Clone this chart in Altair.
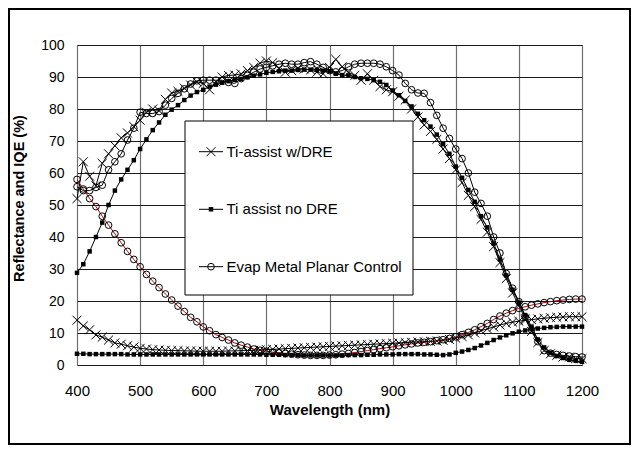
import altair as alt
import pandas as pd

wavelength = list(range(400, 1201, 10))
series_names = ["Ti-assist w/DRE", "Ti assist no DRE", "Evap Metal Planar Control"]

# upper curves
dre_high = [52, 63.5, 59, 56, 63, 66, 68.5, 71, 72.5, 74.5,
            76.5, 79, 80, 79.5, 83, 85, 85.5, 86.5, 87.5, 88.5,
            88, 86, 88.5, 90, 90.5, 90.6, 91, 92, 93, 94.3,
            95, 94.5, 92.7, 91.5, 92, 92.7, 92.5, 92.2, 91.5, 91,
            93, 95.5, 93.2, 91.5, 90.5, 89, 91, 89, 87, 86,
            85.4, 84, 82.8, 80, 77.5, 75, 73, 70.5, 67.5, 64.5,
            61, 57, 53, 49.5, 45.5, 41.5, 37, 32, 27, 22.5,
            18.5, 14.5, 10.5, 7, 4.5, 3.5, 3, 2.5, 2.5, 2,
            2]
nodre_high = [28.8, 31.5, 35.5, 40, 44.5, 50, 54.5, 58, 61, 64,
              67.5, 70.5, 73.4, 75.8, 78.2, 79.8, 81.2, 82.8, 84.2, 85.3,
              86, 87, 87.6, 88.2, 88.7, 89.1, 89.4, 89.9, 90.4, 90.8,
              91.3, 91.6, 91.8, 92, 92, 92.2, 92.3, 92.3, 92.2, 92,
              91.8, 91, 90.6, 90.5, 90, 89.6, 89.4, 89, 88.5, 87.5,
              85.8, 84.3, 82.5, 80.8, 78.5, 76.5, 74.5, 72, 69, 66,
              62, 58.5, 54.7, 51, 46.5, 43, 38, 33, 28, 23.5,
              19.5, 15.6, 12, 8, 5.5, 3.8, 2.8, 2.2, 1.6, 1.3,
              1]
evap_high = [55.7, 54.5, 54.5, 55.5, 56.2, 61, 63.5, 66, 70.3, 74,
             79, 78.6, 78.6, 79.2, 81.2, 83.3, 84.9, 86.3, 87.8, 88.8,
             89, 89, 89, 89, 88.3, 88, 89.5, 90.5, 91.5, 92.5,
             93, 93.5, 94, 94.3, 94, 94, 94.5, 94.8, 94, 93,
             92, 91.6, 92, 93.2, 94, 94.3, 94.3, 94.3, 94, 93.2,
             92, 90.6, 88, 86, 85, 84.9, 82, 78, 74, 70.8,
             67.5, 64.5, 60, 54, 50.5, 46.5, 40, 35, 28.6, 24,
             19.8, 15, 11, 7.3, 4.5, 3.7, 3.3, 3, 2.8, 2.6,
             2.5]
# lower curves
dre_low = [14, 12.2, 11, 9.4, 8.7, 7.8, 6.9, 6.5, 6, 5.6,
           5.2, 5, 4.8, 4.7, 4.6, 4.5, 4.5, 4.4, 4.4, 4.3,
           4.3, 4.3, 4.3, 4.3, 4.4, 4.4, 4.5, 4.5, 4.6, 4.7,
           4.8, 4.9, 5, 5.1, 5.2, 5.3, 5.4, 5.5, 5.6, 5.7,
           5.8, 5.9, 6, 6.1, 6.2, 6.3, 6.4, 6.5, 6.6, 6.7,
           6.8, 6.9, 7, 7.1, 7.2, 7.3, 7.4, 7.5, 7.7, 8,
           8.4, 8.9, 9.4, 10, 10.7, 11.3, 11.9, 12.5, 13, 13.4,
           13.7, 14, 14.2, 14.4, 14.6, 14.8, 14.9, 15, 15.1, 15.1,
           15.1]
nodre_low = [3.5, 3.5, 3.4, 3.4, 3.4, 3.4, 3.4, 3.4, 3.3, 3.3,
             3.3, 3.3, 3.3, 3.3, 3.3, 3.3, 3.3, 3.3, 3.3, 3.3,
             3.3, 3.3, 3.3, 3.3, 3.3, 3.3, 3.3, 3.3, 3.3, 3.3,
             3.2, 3.2, 3.2, 3.1, 3.1, 3.1, 3.0, 3.0, 3.0, 3.0,
             3.0, 3.0, 3.0, 3.1, 3.1, 3.1, 3.2, 3.2, 3.3, 3.3,
             3.3, 3.4, 3.4, 3.4, 3.4, 3.3, 3.3, 3.2, 3.1, 3.3,
             3.8, 4.2, 4.7, 5.3, 6.1, 6.9, 7.8, 8.6, 9.3, 9.9,
             10.4, 10.8, 11.2, 11.4, 11.6, 11.8, 11.9, 12, 12, 12,
             12]
evap_low = [58, 55, 52, 49.5, 46.5, 43.7, 41, 38.2, 35.5, 33,
            30.7, 28.3, 26.2, 24.2, 22.2, 20.3, 18.4, 16.7, 14.9, 13.5,
            11.9, 10.7, 9.5, 8.6, 7.8, 6.9, 6.2, 5.6, 5, 4.6,
            4.3, 4, 3.8, 3.6, 3.4, 3.2, 3.1, 3, 3, 3,
            3.1, 3.2, 3.4, 3.6, 3.9, 4.2, 4.5, 4.8, 5.1, 5.4,
            5.7, 6, 6.3, 6.6, 6.9, 7.1, 7.3, 7.6, 7.9, 8.3,
            8.8, 9.5, 10.2, 11, 12, 13, 14.2, 15.3, 16.2, 17,
            17.7, 18.2, 18.7, 19.1, 19.5, 19.8, 20.1, 20.3, 20.5, 20.6,
            20.6]

x_ticks = list(range(400, 1201, 100))
y_ticks = list(range(0, 101, 10))

rows = []
for name, part, vals in [
    (series_names[0], "high", dre_high), (series_names[1], "high", nodre_high),
    (series_names[2], "high", evap_high), (series_names[0], "low", dre_low),
    (series_names[1], "low", nodre_low), (series_names[2], "low", evap_low)]:
    for w, v in zip(wavelength, vals):
        rows.append({"wl": w, "v": v, "series": name, "part": part, "key": name + "|" + part})
df = pd.DataFrame(rows)

FONT = "Liberation Sans"
W, H = 505, 320

xaxis = alt.Axis(values=x_ticks, format="d", labelFlush=False, labelOverlap=False,
                 title="Wavelength (nm)", grid=True, tickCount=30,
                 gridColor="#707070", gridWidth=1.2, ticks=False, domain=False,
                 labelFontSize=15, labelPadding=18, labelFont=FONT, labelColor="black",
                 titleFont=FONT, titleFontSize=15, titleFontWeight="bold",
                 titleColor="black", titlePadding=4)
yaxis = alt.Axis(values=y_ticks, format="d", labelFlush=False, labelOverlap=False,
                 title="Reflectance and IQE (%)", grid=True, tickCount=30,
                 gridColor="#1a1a1a", gridWidth=1, ticks=False, domain=False,
                 labelFontSize=14, labelPadding=13, labelFont=FONT, labelColor="black",
                 titleFont=FONT, titleFontSize=14.5, titleFontWeight="bold",
                 titleColor="black", titlePadding=14, titleY=153)
xscale = alt.Scale(domain=[400, 1200], nice=False)
yscale = alt.Scale(domain=[0, 100], nice=False)


def xe():
    return alt.X("wl:Q", scale=xscale, axis=xaxis)


def ye():
    return alt.Y("v:Q", scale=yscale, axis=yaxis)


base = alt.Chart(df)
lines = base.mark_line(strokeWidth=1, clip=True).encode(
    x=xe(), y=ye(), detail="key:N",
    color=alt.condition(alt.datum.key == series_names[2] + "|low",
                        alt.value("#b00000"), alt.value("black")))

XPATH = "M-1,-1L1,1M-1,1L1,-1"
pts_x = base.transform_filter(alt.datum.series == series_names[0]).mark_point(
    shape=XPATH, filled=False, color="black", size=80, strokeWidth=1, opacity=1).encode(x=xe(), y=ye())
pts_sq = base.transform_filter(alt.datum.series == series_names[1]).mark_square(
    filled=True, color="black", size=20, opacity=1).encode(x=xe(), y=ye())
pts_c = base.transform_filter(alt.datum.series == series_names[2]).mark_point(
    shape="circle", filled=False, color="black", size=45, strokeWidth=1, opacity=1).encode(x=xe(), y=ye())

one = alt.Data(values=[{"a": 0}])
leg_box = alt.Chart(one).mark_rect(fill="white", stroke="black", strokeWidth=1).encode(
    x=alt.value(108), x2=alt.value(336), y=alt.value(76), y2=alt.value(250))

legend_layers = [leg_box]
leg_y = [106.7, 164.3, 221.7]
marks = [
    dict(shape=XPATH, filled=False, size=80, strokeWidth=1),
    dict(shape="square", filled=True, size=20),
    dict(shape="circle", filled=False, size=45, strokeWidth=1),
]
for name, yy, m in zip(series_names, leg_y, marks):
    legend_layers.append(alt.Chart(one).mark_rule(color="black", strokeWidth=1).encode(
        x=alt.value(122), x2=alt.value(146), y=alt.value(yy)))
    legend_layers.append(alt.Chart(one).mark_point(color="black", opacity=1, **m).encode(
        x=alt.value(134), y=alt.value(yy)))
    legend_layers.append(alt.Chart(one).mark_text(
        align="left", baseline="middle", fontSize=15, font=FONT, color="black").encode(
        x=alt.value(149.5), y=alt.value(yy), text=alt.value(name)))

frame = alt.Chart(one).mark_rect(fill=None, stroke="black", strokeWidth=2).encode(
    x=alt.value(-68), x2=alt.value(553), y=alt.value(-36), y2=alt.value(399))

chart = alt.layer(lines, pts_x, pts_sq, pts_c, *legend_layers, frame).properties(
    width=W, height=H,
    autosize=alt.AutoSizeParams(type="none"),
    padding={"left": 69, "top": 37, "right": 49, "bottom": 80},
).configure_view(stroke="black", strokeWidth=1.5).configure(background="white")

chart.save("out.html", embed_options={"renderer": "svg", "actions": False})
